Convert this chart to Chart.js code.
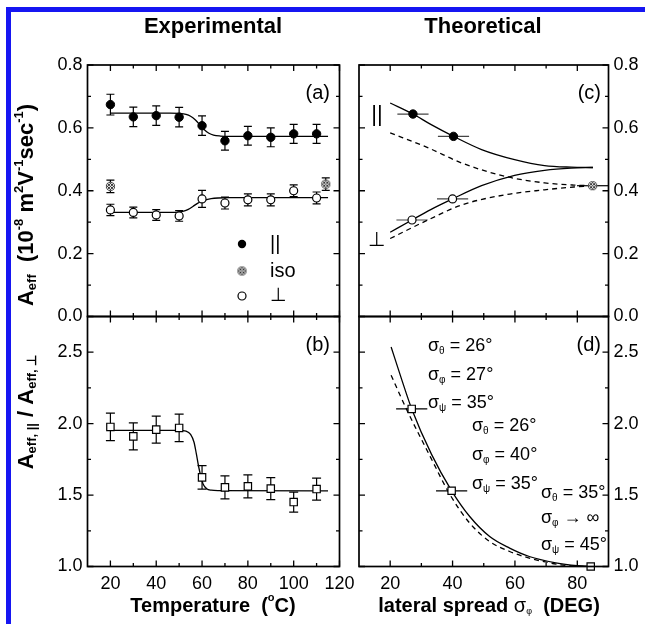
<!DOCTYPE html>
<html>
<head>
<meta charset="utf-8">
<title>Effective mobility - experiment vs theory</title>
<script src="https://cdn.jsdelivr.net/npm/chart.js@4.4.1/dist/chart.umd.min.js"></script>
<style>
  html, body { margin: 0; padding: 0; background: #fff; }
  #page { position: relative; width: 645px; height: 624px; overflow: hidden; }
  #page canvas { position: absolute; left: 0; top: 0; }
  #border { position: absolute; left: 6px; top: 7px; width: 800px; height: 800px;
            border-left: 5px solid #1616f2; border-top: 5px solid #1616f2; }
</style>
</head>
<body>
<div id="page">
  <div id="border"></div>
  <canvas id="chartA" width="645" height="624"></canvas>
  <canvas id="chartB" width="645" height="624"></canvas>
  <canvas id="chartC" width="645" height="624"></canvas>
  <canvas id="chartD" width="645" height="624"></canvas>
</div>
<script>
// ==================== DATA ====================
// (a) effective mobility vs temperature
const tempPts = [20, 30, 40, 50, 60, 70, 80, 90, 100, 110];
const parMob = [0.674, 0.635, 0.639, 0.634, 0.607, 0.559, 0.575, 0.570, 0.581, 0.581];
const parMobErr = [0.033, 0.031, 0.031, 0.031, 0.031, 0.030, 0.030, 0.030, 0.030, 0.030];
const perpMob = [0.339, 0.331, 0.323, 0.320, 0.374, 0.361, 0.371, 0.371, 0.400, 0.377];
const perpMobErr = [0.018, 0.017, 0.017, 0.017, 0.027, 0.019, 0.019, 0.019, 0.019, 0.019];
const isoTemp = [20, 114];
const isoMob = [0.414, 0.421];
const isoMobErr = [0.020, 0.020];
const parFitT = [20, 46, 50, 53, 55, 57, 59, 61, 63, 65, 68, 72, 115];
const parFitV = [0.647, 0.647, 0.646, 0.643, 0.637, 0.626, 0.610, 0.594, 0.583, 0.577, 0.574, 0.573, 0.573];
const perpFitT = [20, 46, 50, 52, 54, 56, 58, 60, 62, 64, 67, 72, 115];
const perpFitV = [0.331, 0.331, 0.332, 0.335, 0.341, 0.350, 0.360, 0.367, 0.372, 0.375, 0.377, 0.378, 0.378];

// (b) anisotropy ratio vs temperature
const ratio = [1.977, 1.911, 1.958, 1.970, 1.624, 1.554, 1.561, 1.545, 1.451, 1.542];
const ratioErr = [0.096, 0.095, 0.095, 0.096, 0.082, 0.080, 0.080, 0.077, 0.070, 0.077];
const ratioFitT = [20, 50, 53, 55, 56.5, 57.5, 58.5, 59.5, 60.5, 62, 64, 67, 115];
const ratioFitV = [1.953, 1.953, 1.948, 1.925, 1.870, 1.790, 1.700, 1.630, 1.575, 1.545, 1.534, 1.531, 1.530];

// (c) theoretical mobility vs lateral spread
const parThS = [20, 27.3, 33, 40.3, 49.3, 59.9, 69.5, 78, 85];
const parThV = [0.679, 0.644, 0.611, 0.573, 0.531, 0.499, 0.480, 0.475, 0.474];
const perpThS = [20, 27, 33, 40, 49.3, 59.9, 69.5, 78, 85];
const perpThV = [0.268, 0.307, 0.340, 0.374, 0.416, 0.449, 0.465, 0.472, 0.474];
const parDashS = [20, 32.3, 43, 56.8, 69.5, 78.9, 85];
const parDashV = [0.584, 0.536, 0.488, 0.446, 0.425, 0.418, 0.416];
const perpDashS = [20, 32.3, 43, 56.8, 69.5, 78.9, 85];
const perpDashV = [0.248, 0.308, 0.355, 0.387, 0.403, 0.412, 0.416];
const parFitS = [27.3, 40.3];
const parFitMob = [0.644, 0.573];
const perpFitS = [27, 40];
const perpFitMob = [0.307, 0.374];
const fitSpreadErr = [5, 5];
const isoSpread = [84.9];
const isoTheory = [0.416];
const isoSpreadErr = [5];

// (d) theoretical ratio vs lateral spread
const ratioThS = [20.3, 23.7, 26.9, 33.3, 39.7, 45.5, 51.9, 58.3, 64.6, 73.1, 80, 84.3];
const ratioThV = [2.537, 2.308, 2.103, 1.783, 1.530, 1.350, 1.210, 1.129, 1.070, 1.026, 1.006, 1.0];
const ratioDashS = [20.3, 25.3, 32.8, 39.2, 45.5, 51.9, 58.3, 64.6, 74.7, 82];
const ratioDashV = [2.339, 2.098, 1.771, 1.502, 1.304, 1.175, 1.105, 1.059, 1.012, 1.0];
const ratioSetS = [26.9, 39.7, 84.3];
const ratioSetV = [2.103, 1.530, 1.0];
const ratioSetErr = [5, 5, 0];

// ticks
const tempTicks = [20, 40, 60, 80, 100, 120];
const tempTickLabels = ['20', '40', '60', '80', '100', '120'];
const tempMinor = [30, 50, 70, 90, 110];
const spreadTicks = [20, 40, 60, 80];
const spreadTickLabels = ['20', '40', '60', '80'];
const spreadMinor = [30, 50, 70];
const mobTicks = [0, 0.2, 0.4, 0.6, 0.8];
const mobTickLabels = ['0.0', '0.2', '0.4', '0.6', '0.8'];
const mobMinor = [0.1, 0.3, 0.5, 0.7];
const ratioTicks = [1.0, 1.5, 2.0, 2.5];
const ratioTickLabels = ['1.0', '1.5', '2.0', '2.5'];
const ratioMinor = [1.25, 1.75, 2.25];

// ==================== HELPERS ====================
const FAM = "'Liberation Sans', Arial, Helvetica, sans-serif";
const B = n => `bold ${n}px ${FAM}`;
const R = n => `${n}px ${FAM}`;
const pts = (xs, ys) => xs.map((x, i) => ({ x: x, y: ys[i] }));

// hatched circle used for the "iso" points
function makeIsoMarker() {
    const c = document.createElement('canvas');
    c.width = 11; c.height = 11;
    const g = c.getContext('2d');
    g.fillStyle = '#fff';
    g.fillRect(0, 0, 11, 11);
    g.beginPath(); g.arc(5.5, 5.5, 4.6, 0, Math.PI * 2);
    g.save(); g.clip();
    g.strokeStyle = '#222'; g.lineWidth = 0.9;
    for (let k = -12; k <= 12; k += 3) {
        g.beginPath(); g.moveTo(k, 0); g.lineTo(k + 11, 11); g.stroke();
        g.beginPath(); g.moveTo(k + 11, 0); g.lineTo(k, 11); g.stroke();
    }
    g.restore();
    // cut back to a round outline
    const out = document.createElement('canvas');
    out.width = 11; out.height = 11;
    const o = out.getContext('2d');
    o.beginPath(); o.arc(5.5, 5.5, 4.6, 0, Math.PI * 2); o.clip();
    o.drawImage(c, 0, 0);
    o.strokeStyle = '#333'; o.lineWidth = 1;
    o.beginPath(); o.arc(5.5, 5.5, 4.1, 0, Math.PI * 2); o.stroke();
    return out;
}
const isoMarker = makeIsoMarker();

function drawRuns(ctx, item) {
    ctx.save();
    ctx.translate(item.x, item.y);
    if (item.rot) ctx.rotate(item.rot);
    ctx.fillStyle = '#000';
    ctx.textBaseline = 'middle';
    let w = 0;
    item.runs.forEach(r => { ctx.font = r[1]; w += ctx.measureText(r[0]).width; });
    let x = item.align === 'left' ? 0 : item.align === 'right' ? -w : -w / 2;
    item.runs.forEach(r => {
        ctx.font = r[1];
        ctx.fillText(r[0], x, r[2] || 0);
        x += ctx.measureText(r[0]).width;
    });
    ctx.restore();
}

// error bars drawn from dataset values through the scales
const errorBars = {
    id: 'errorBars',
    beforeDatasetsDraw(chart) {
        const { ctx, scales: { x: xs, y: ys } } = chart;
        chart.data.datasets.forEach(ds => {
            if (!ds.yErr && !ds.xErr) return;
            ctx.save();
            ctx.strokeStyle = ds.errColor || '#000';
            ctx.lineWidth = 1.2;
            ctx.beginPath();
            ds.data.forEach((p, i) => {
                const px = xs.getPixelForValue(p.x), py = ys.getPixelForValue(p.y);
                if (ds.yErr) {
                    const t = ys.getPixelForValue(p.y + ds.yErr[i]);
                    const b = ys.getPixelForValue(p.y - ds.yErr[i]);
                    const c = ds.cap || 4;
                    ctx.moveTo(px, t); ctx.lineTo(px, b);
                    ctx.moveTo(px - c, t); ctx.lineTo(px + c, t);
                    ctx.moveTo(px - c, b); ctx.lineTo(px + c, b);
                }
                if (ds.xErr && ds.xErr[i]) {
                    const l = xs.getPixelForValue(p.x - ds.xErr[i]);
                    const r = xs.getPixelForValue(p.x + ds.xErr[i]);
                    ctx.moveTo(l, py); ctx.lineTo(Math.min(r, chart.chartArea.right), py);
                }
            });
            ctx.stroke();
            ctx.restore();
        });
    }
};

// box frame with inward ticks on all four sides
function framePlugin(cfg) {
    return {
        id: 'frame',
        afterDatasetsDraw(chart) {
            const { ctx, chartArea: a, scales: { x: xs, y: ys } } = chart;
            ctx.save();
            ctx.strokeStyle = '#000';
            ctx.lineWidth = 1.3;
            ctx.beginPath();
            const vmark = (vals, len) => vals.forEach(v => {
                const px = xs.getPixelForValue(v);
                ctx.moveTo(px, a.bottom); ctx.lineTo(px, a.bottom - len);
                ctx.moveTo(px, a.top); ctx.lineTo(px, a.top + len);
            });
            const hmark = (vals, len) => vals.forEach(v => {
                const py = ys.getPixelForValue(v);
                ctx.moveTo(a.left, py); ctx.lineTo(a.left + len, py);
                ctx.moveTo(a.right, py); ctx.lineTo(a.right - len, py);
            });
            vmark(cfg.xMajor, 6); vmark(cfg.xMinor, 3.5);
            hmark(cfg.yMajor, 6); hmark(cfg.yMinor, 3.5);
            ctx.stroke();
            ctx.lineWidth = 1.7;
            ctx.strokeRect(a.left, a.top, a.right - a.left, a.bottom - a.top);
            ctx.restore();
        }
    };
}

function textPlugin(items, extra) {
    return {
        id: 'texts',
        afterDraw(chart) {
            const ctx = chart.ctx;
            items.forEach(it => drawRuns(ctx, it));
            if (extra) extra(ctx);
        }
    };
}

// area = [left, top, right, bottom] of the plot box in page pixels
function makeChart(id, area, xr, yr, datasets, plugins) {
    const yW = yr.pos === 'left' ? 40 : 34;
    const xH = xr.show ? 30 : 0;
    const pad = {
        left: yr.pos === 'left' ? area[0] - yW : area[0],
        right: yr.pos === 'right' ? 645 - area[2] - yW : 645 - area[2],
        top: area[1],
        bottom: 624 - area[3] - xH
    };
    return new Chart(document.getElementById(id), {
        type: 'scatter',
        data: { datasets: datasets },
        options: {
            responsive: false,
            animation: false,
            events: [],
            layout: { padding: pad },
            plugins: { legend: { display: false }, tooltip: { enabled: false } },
            scales: {
                x: {
                    type: 'linear', min: xr.min, max: xr.max, position: 'bottom',
                    grid: { display: false, drawTicks: false }, border: { display: false },
                    afterBuildTicks: s => { s.ticks = xr.ticks.map(v => ({ value: v })); },
                    afterFit: s => { s.height = xH; },
                    ticks: {
                        display: xr.show, padding: 7, color: '#000', autoSkip: false, maxRotation: 0,
                        font: { family: FAM, size: 18 },
                        callback: (v, i) => xr.labels[i]
                    }
                },
                y: {
                    type: 'linear', min: yr.min, max: yr.max, position: yr.pos,
                    grid: { display: false, drawTicks: false }, border: { display: false },
                    afterBuildTicks: s => { s.ticks = yr.ticks.map(v => ({ value: v })); },
                    afterFit: s => { s.width = yW; },
                    ticks: {
                        padding: 5, color: '#000', autoSkip: false,
                        font: { family: FAM, size: 18 },
                        callback: (v, i) => yr.labels[i]
                    }
                }
            }
        },
        plugins: [errorBars].concat(plugins)
    });
}

function fitLine(xs, ys, dashed) {
    return {
        type: 'line', data: pts(xs, ys), borderColor: '#000', borderWidth: 1.3,
        borderDash: dashed ? [5, 4] : [], pointRadius: 0, fill: false,
        cubicInterpolationMode: 'monotone'
    };
}
const filledPt = { pointStyle: 'circle', pointRadius: 4.2, backgroundColor: '#000', borderColor: '#000', borderWidth: 1, clip: false };
const openPt = { pointStyle: 'circle', pointRadius: 4, backgroundColor: '#fff', borderColor: '#000', borderWidth: 1.2, clip: false };
const squarePt = { pointStyle: 'rect', pointRadius: 5.2, backgroundColor: '#fff', borderColor: '#000', borderWidth: 1.2, clip: false };

// ==================== PANEL LAYOUT ====================
const areaA = [87.5, 65, 339.5, 316.5];
const areaB = [87.5, 316.5, 339.5, 566.5];
const areaC = [359, 65, 608.5, 316.5];
const areaD = [359, 316.5, 608.5, 566.5];

const tempAxisTop = { min: 10, max: 120, ticks: tempTicks, labels: tempTickLabels, show: false };
const tempAxis = { min: 10, max: 120, ticks: tempTicks, labels: tempTickLabels, show: true };
const spreadAxisTop = { min: 10, max: 90, ticks: spreadTicks, labels: spreadTickLabels, show: false };
const spreadAxis = { min: 10, max: 90, ticks: spreadTicks, labels: spreadTickLabels, show: true };

// ==================== (a) ====================
makeChart('chartA', areaA, tempAxisTop,
    { min: 0, max: 0.8, ticks: mobTicks, labels: mobTickLabels, pos: 'left' },
    [
        Object.assign({ data: pts(tempPts, parMob), yErr: parMobErr, cap: 4 }, filledPt),
        Object.assign({ data: pts(tempPts, perpMob), yErr: perpMobErr, cap: 4 }, openPt),
        { data: pts(isoTemp, isoMob), yErr: isoMobErr, cap: 4, pointStyle: isoMarker, pointRadius: 5, clip: false },
        fitLine(parFitT, parFitV),
        fitLine(perpFitT, perpFitV)
    ],
    [framePlugin({ xMajor: tempTicks, xMinor: tempMinor, yMajor: mobTicks, yMinor: mobMinor }),
     textPlugin([
        { x: 213, y: 27, runs: [['Experimental', B(22)]] },
        { x: 483, y: 27, runs: [['Theoretical', B(22)]] },
        { x: 330, y: 93, align: 'right', runs: [['(a)', R(20)]] },
        { x: 270, y: 244, align: 'left', runs: [['||', R(20)]] },
        { x: 270, y: 271, align: 'left', runs: [['iso', R(20)]] },
        { x: 270, y: 296, align: 'left', runs: [['\u22A5', R(19)]] },
        { x: 27, y: 205, rot: -Math.PI / 2, runs: [
            ['A', B(22)], ['eff', B(13), 5], ['  (10', B(22)], ['-8', B(13), -8], [' m', B(22)],
            ['2', B(13), -8], ['V', B(22)], ['-1', B(13), -8], ['sec', B(22)], ['-1', B(13), -8], [')', B(22)]] }
     ], ctx => {
        // legend symbols
        ctx.save();
        ctx.fillStyle = '#000'; ctx.strokeStyle = '#000'; ctx.lineWidth = 1.2;
        ctx.beginPath(); ctx.arc(242, 244, 4.2, 0, Math.PI * 2); ctx.fill();
        ctx.drawImage(isoMarker, 242 - 5.5, 271 - 5.5);
        ctx.fillStyle = '#fff';
        ctx.beginPath(); ctx.arc(242, 296, 4, 0, Math.PI * 2); ctx.fill(); ctx.stroke();
        ctx.restore();
     })]
);

// ==================== (b) ====================
makeChart('chartB', areaB, tempAxis,
    { min: 1.0, max: 2.75, ticks: ratioTicks, labels: ratioTickLabels, pos: 'left' },
    [
        Object.assign({ data: pts(tempPts, ratio), yErr: ratioErr, cap: 4.5 }, squarePt),
        fitLine(ratioFitT, ratioFitV)
    ],
    [framePlugin({ xMajor: tempTicks, xMinor: tempMinor, yMajor: ratioTicks, yMinor: ratioMinor }),
     textPlugin([
        { x: 330, y: 345, align: 'right', runs: [['(b)', R(20)]] },
        { x: 213, y: 606, runs: [['Temperature  (', B(20)], ['o', B(11), -8], ['C)', B(20)]] },
        { x: 27, y: 412, rot: -Math.PI / 2, runs: [
            ['A', B(22)], ['eff, ||', B(13), 5], [' / A', B(22)], ['eff, \u22A5', B(13), 5]] }
     ])]
);

// ==================== (c) ====================
makeChart('chartC', areaC, spreadAxisTop,
    { min: 0, max: 0.8, ticks: mobTicks, labels: mobTickLabels, pos: 'right' },
    [
        Object.assign({ data: pts(parFitS, parFitMob), xErr: fitSpreadErr, errColor: '#444' }, filledPt),
        Object.assign({ data: pts(perpFitS, perpFitMob), xErr: fitSpreadErr, errColor: '#444' }, openPt),
        { data: pts(isoSpread, isoTheory), xErr: isoSpreadErr, pointStyle: isoMarker, pointRadius: 5, clip: false },
        fitLine(parThS, parThV),
        fitLine(perpThS, perpThV),
        fitLine(parDashS, parDashV, true),
        fitLine(perpDashS, perpDashV, true)
    ],
    [framePlugin({ xMajor: spreadTicks, xMinor: spreadMinor, yMajor: mobTicks, yMinor: mobMinor }),
     textPlugin([
        { x: 601, y: 93, align: 'right', runs: [['(c)', R(20)]] },
        { x: 377, y: 115, runs: [['||', R(22)]] },
        { x: 376, y: 240, runs: [['\u22A5', R(20)]] }
     ])]
);

// ==================== (d) ====================
const sig = (sub, rest) => [['\u03C3', R(18)], [sub, R(10), 5], [rest, R(18)]];
makeChart('chartD', areaD, spreadAxis,
    { min: 1.0, max: 2.75, ticks: ratioTicks, labels: ratioTickLabels, pos: 'right' },
    [
        Object.assign({ data: pts(ratioSetS, ratioSetV), xErr: ratioSetErr }, squarePt),
        fitLine(ratioThS, ratioThV),
        fitLine(ratioDashS, ratioDashV, true)
    ],
    [framePlugin({ xMajor: spreadTicks, xMinor: spreadMinor, yMajor: ratioTicks, yMinor: ratioMinor }),
     textPlugin([
        { x: 601, y: 345, align: 'right', runs: [['(d)', R(20)]] },
        { x: 428, y: 346, align: 'left', runs: sig('\u03B8', ' = 26\u00B0') },
        { x: 428, y: 375, align: 'left', runs: sig('\u03C6', ' = 27\u00B0') },
        { x: 428, y: 403, align: 'left', runs: sig('\u03C8', ' = 35\u00B0') },
        { x: 472, y: 426, align: 'left', runs: sig('\u03B8', ' = 26\u00B0') },
        { x: 472, y: 455, align: 'left', runs: sig('\u03C6', ' = 40\u00B0') },
        { x: 472, y: 484, align: 'left', runs: sig('\u03C8', ' = 35\u00B0') },
        { x: 541, y: 493, align: 'left', runs: sig('\u03B8', ' = 35\u00B0') },
        { x: 541, y: 518, align: 'left', runs: sig('\u03C6', ' \u2192 \u221E') },
        { x: 541, y: 545, align: 'left', runs: sig('\u03C8', ' = 45\u00B0') },
        { x: 489, y: 606, runs: [['lateral spread ', B(20)], ['\u03C3', R(20)], ['\u03C6', R(9), 6], ['  (DEG)', B(20)]] }
     ])]
);
</script>
</body>
</html>
